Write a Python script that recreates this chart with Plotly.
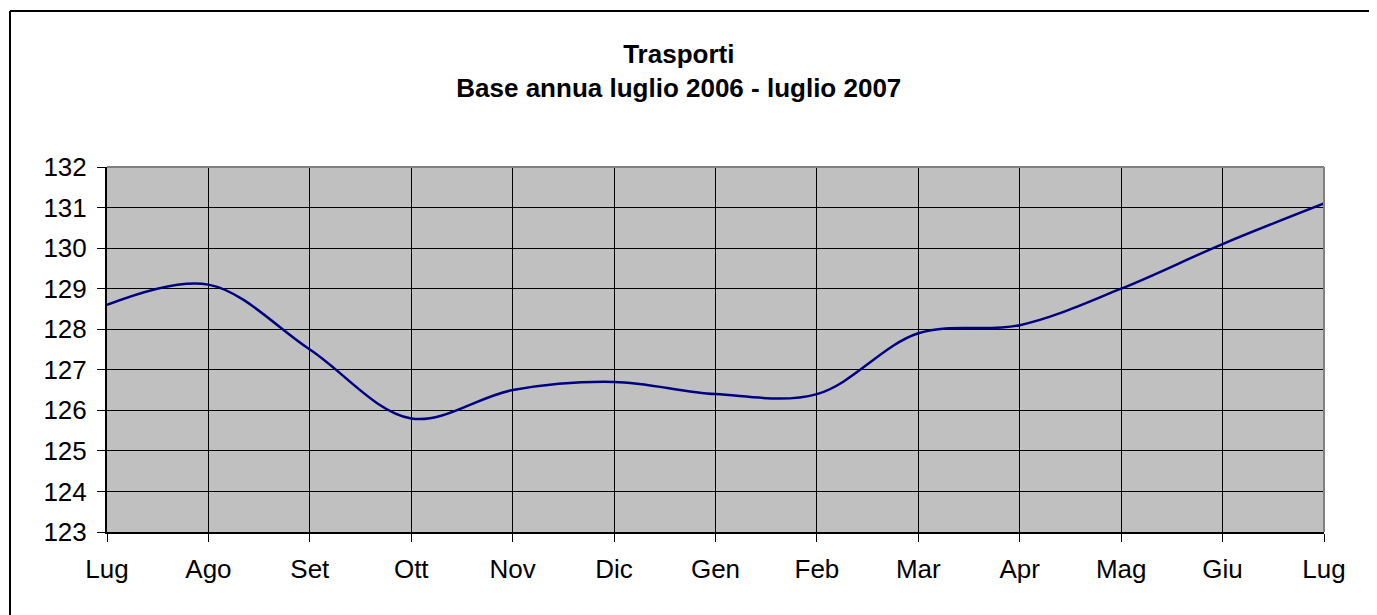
import plotly.graph_objects as go

months = ["Lug", "Ago", "Set", "Ott", "Nov", "Dic", "Gen", "Feb", "Mar", "Apr", "Mag", "Giu", "Lug"]
values = [128.6, 129.1, 127.5, 125.8, 126.5, 126.7, 126.4, 126.4, 127.9, 128.1, 129.0, 130.1, 131.1]
y_ticks = list(range(123, 133))
positions = list(range(len(months)))

FONT = "Liberation Sans, Arial, sans-serif"

# page has an 8px body margin; figure sized so plot area lands where the reference has it
W, H = 1369, 607
L, R, T, B = 99, 53, 159, 83
PW, PH = W - L - R, H - T - B
PB = T + PH  # plot bottom in figure px


def px_x(fx):
    return (fx - L) / PW


def px_y(fy):
    return (PB - fy) / PH


fig = go.Figure()
fig.add_trace(go.Scatter(
    x=positions, y=values, mode="lines",
    line=dict(color="#000080", width=2.5, shape="spline", smoothing=1.0),
    hoverinfo="x+y", showlegend=False,
))
# invisible trace to activate the overlay axes (for crossing tick marks)
fig.add_trace(go.Scatter(x=[positions[0]], y=[values[0]], xaxis="x2", yaxis="y2",
                         mode="markers", marker=dict(opacity=0), showlegend=False,
                         hoverinfo="skip"))

fig.update_layout(
    width=W, height=H,
    margin=dict(l=L, r=R, t=T, b=B),
    paper_bgcolor="white",
    plot_bgcolor="#C0C0C0",
    font=dict(family=FONT, size=26, color="black"),
    title=dict(
        text="<b>Trasporti</b><br><b>Base annua luglio 2006 - luglio 2007</b>",
        x=0.490, xanchor="center", y=0.909, yanchor="middle",
        font=dict(family=FONT, size=26, color="black"),
    ),
    xaxis=dict(
        range=[0, len(months) - 1], tickmode="array", tickvals=positions, ticktext=months,
        showgrid=True, gridcolor="black", gridwidth=1,
        showline=True, linecolor="black", linewidth=2,
        ticks="outside", ticklen=8, tickwidth=1, tickcolor="black",
        ticklabelstandoff=5, zeroline=False, fixedrange=True,
        tickfont=dict(family=FONT, size=26),
    ),
    yaxis=dict(
        range=[y_ticks[0], y_ticks[-1]], tickmode="array", tickvals=y_ticks,
        showgrid=True, gridcolor="black", gridwidth=1,
        showline=True, linecolor="black", linewidth=2,
        ticks="outside", ticklen=8, tickwidth=1, tickcolor="black",
        ticklabelstandoff=5, zeroline=False, fixedrange=True,
        tickfont=dict(family=FONT, size=26),
    ),
    xaxis2=dict(
        overlaying="x", anchor="y", side="bottom",
        range=[0, len(months) - 1], tickmode="array", tickvals=positions,
        showticklabels=False, showgrid=False, zeroline=False,
        ticks="inside", ticklen=8, tickwidth=1, tickcolor="black", showline=False,
    ),
    yaxis2=dict(
        overlaying="y", anchor="x", side="left",
        range=[y_ticks[0], y_ticks[-1]], tickmode="array", tickvals=y_ticks,
        showticklabels=False, showgrid=False, zeroline=False,
        ticks="inside", ticklen=8, tickwidth=1, tickcolor="black", showline=False,
    ),
    shapes=[
        # gray frame on top and right of plot area
        dict(type="line", xref="paper", yref="paper", x0=0, x1=1, y0=1, y1=1,
             line=dict(color="#808080", width=2), layer="above"),
        dict(type="line", xref="paper", yref="paper", x0=1, x1=1, y0=0, y1=1,
             line=dict(color="#808080", width=2), layer="above"),
        # outer chart border (top and left visible)
        dict(type="line", xref="paper", yref="paper",
             x0=px_x(2), x1=px_x(W), y0=px_y(3), y1=px_y(3),
             line=dict(color="black", width=2), layer="above"),
        dict(type="line", xref="paper", yref="paper",
             x0=px_x(2), x1=px_x(2), y0=px_y(3), y1=px_y(H),
             line=dict(color="black", width=2), layer="above"),
    ],
)

fig.write_html("out.html")
